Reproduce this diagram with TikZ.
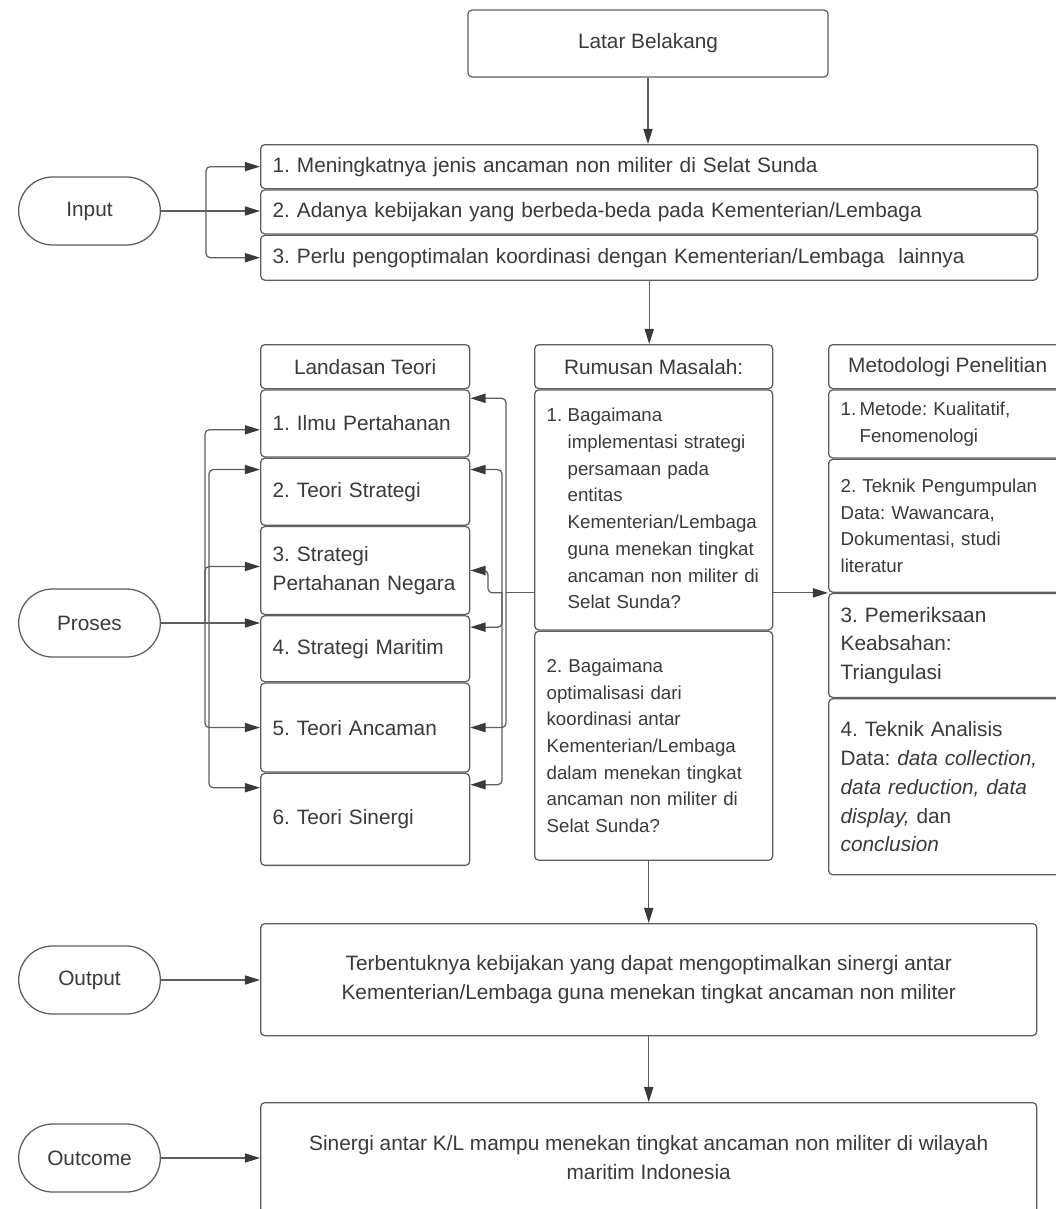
\documentclass[tikz,border=0pt]{standalone}
\usepackage{fontspec}
\setmainfont{Liberation Sans}
\usepackage{tikz}
\usetikzlibrary{arrows.meta,positioning,calc,shapes.misc}

\definecolor{linegray}{HTML}{5E5E5E}
\definecolor{tipgray}{HTML}{3A3A3A}
\definecolor{textgray}{HTML}{3A3A3A}
\newcommand{\fbig}{\fontsize{14.8}{20.5}\selectfont}
\newcommand{\fsmall}{\fontsize{13.3}{19}\selectfont}
\frenchspacing

\begin{document}
\begin{tikzpicture}[
    x=0.025cm, y=-0.025cm,
    box/.style={rectangle,draw=linegray,line width=0.9pt,rounded corners=3pt,text=textgray,font=\fbig,inner xsep=0.3cm,inner ysep=2pt},
    itembox/.style={box,align=left,text width=#1},
    itembox/.default=4.625cm,
    term/.style={rounded rectangle,draw=linegray,line width=0.9pt,minimum width=3.775cm,minimum height=1.7cm,text=textgray,font=\fbig},
    arrow/.style={-{Triangle[length=0.38cm,width=0.23cm,color=tipgray]},draw=linegray,line width=0.9pt,rounded corners=3pt},
    link/.style={draw=linegray,line width=0.9pt,rounded corners=3pt}
  ]
  \useasboundingbox (0,0) rectangle (1056,1209);

  % latar belakang + input
  \node[box,minimum width=9cm,minimum height=1.675cm] (latar) at (648,43.5) {Latar Belakang};

  \node[itembox=18.825cm,anchor=north west,minimum height=1.1cm] (in1) at (260,144) {1. Meningkatnya jenis ancaman non militer di Selat Sunda};
  \node[itembox=18.825cm,below=0pt of in1,minimum height=1.1cm] (in2) {2. Adanya kebijakan yang berbeda-beda pada Kementerian/Lembaga};
  \node[itembox=18.825cm,below=0pt of in2,minimum height=1.125cm] (in3) {3. Perlu pengoptimalan koordinasi dengan Kementerian/Lembaga\ \ lainnya};

  \node[term] (inp) at (89.5,211) {Input};

  % landasan teori
  \node[box,anchor=north west,minimum width=5.225cm,minimum height=1.1cm] (lth) at (260,344) {Landasan Teori};
  \node[itembox,below=0pt of lth,minimum height=1.675cm] (lt1) {1. Ilmu Pertahanan};
  \node[itembox,below=0pt of lt1,minimum height=1.675cm] (lt2) {2. Teori Strategi};
  \node[itembox,below=0pt of lt2,minimum height=2.2cm] (lt3) {3. Strategi\\Pertahanan Negara};
  \node[itembox,below=0pt of lt3,minimum height=1.65cm] (lt4) {4. Strategi Maritim};
  \node[itembox,below=0pt of lt4,minimum height=2.225cm] (lt5) {5. Teori Ancaman};
  \node[itembox,below=0pt of lt5,minimum height=2.3cm] (lt6) {6. Teori Sinergi};

  % rumusan masalah
  \node[box,anchor=north west,minimum width=5.95cm,minimum height=1.1cm] (rmh) at (534,344) {Rumusan Masalah:};
  \node[itembox=5.35cm,below=0pt of rmh,minimum height=6cm,font=\fsmall] (rm1) {%
    \begin{tabular}{@{}p{0.525cm}@{}l@{}}
      1. & Bagaimana\\
         & implementasi strategi\\
         & persamaan pada\\
         & entitas\\
         & Kementerian/Lembaga\\
         & guna menekan tingkat\\
         & ancaman non militer di\\
         & Selat Sunda?
    \end{tabular}};
  \node[itembox=5.35cm,below=0pt of rm1,minimum height=5.725cm,font=\fsmall] (rm2) {2. Bagaimana\\optimalisasi dari\\koordinasi antar\\Kementerian/Lembaga\\dalam menekan tingkat\\ancaman non militer di\\Selat Sunda?\\[6pt]};

  % metodologi
  \node[box,anchor=north west,minimum width=5.95cm,minimum height=1.1cm] (mth) at (828,344) {Metodologi Penelitian};
  \node[itembox=5.35cm,below=0pt of mth,minimum height=1.7cm,font=\fsmall] (mt1) {%
    \begin{tabular}{@{}p{0.475cm}@{}l@{}}
      1. & Metode: Kualitatif,\\
         & Fenomenologi
    \end{tabular}};
  \node[itembox=5.35cm,below=0pt of mt1,minimum height=3.325cm,font=\fsmall] (mt2) {2. Teknik Pengumpulan\\Data: Wawancara,\\Dokumentasi, studi\\literatur};
  \node[itembox=5.35cm,below=0pt of mt2,minimum height=2.6cm] (mt3) {3. Pemeriksaan\\Keabsahan:\\Triangulasi};
  \node[itembox=5.35cm,below=0pt of mt3,minimum height=4.4cm] (mt4) {4. Teknik Analisis\\Data: \textit{data collection,}\\\textit{data reduction, data}\\\textit{display,} dan\\\textit{conclusion}};

  \node[term] (pro) at (89.5,623) {Proses};

  % output + outcome
  \node[box,anchor=north west,minimum width=19.4cm,minimum height=2.8cm,align=center] (hasil) at (260,923) {Terbentuknya kebijakan yang dapat mengoptimalkan sinergi antar\\Kementerian/Lembaga guna menekan tingkat ancaman non militer};
  \node[term] (outt) at (89.5,980) {Output};

  \node[box,anchor=north west,minimum width=19.4cm,minimum height=2.75cm,align=center] (dampak) at (260,1102) {Sinergi antar K/L mampu menekan tingkat ancaman non militer di wilayah\\maritim Indonesia};
  \node[term] (outc) at (89.5,1158) {Outcome};

  % alur utama
  \draw[arrow] (latar.south) -- (latar.south |- in1.north);
  \draw[arrow] (in3.south) -- (in3.south |- rmh.north);
  \draw[arrow] (hasil.north |- rm2.south) -- (hasil.north);
  \draw[arrow] (hasil.south) -- (dampak.north);
  \draw[arrow] (outt.east) -- (outt.east -| hasil.west);
  \draw[arrow] (outc.east) -- (outc.east -| dampak.west);

  % input ke tiga poin
  \coordinate (ib) at ($(inp.east)+(45,0)$);
  \draw[link] (inp.east) -- (ib);
  \draw[arrow] (ib) |- (in1.west);
  \draw[arrow] (ib) -- (ib -| in2.west);
  \draw[arrow] (ib) |- (in3.west);

  % proses ke landasan teori
  \coordinate (pa) at ($(pro.east)+(44,0)$);
  \coordinate (pb) at ($(pro.east)+(48,0)$);
  \draw[arrow] (pro.east) -- (pro.east -| lt4.west);
  \draw[arrow] (pa) |- ([yshift=-0.16cm]lt1.west);
  \draw[arrow] (pa) |- ([yshift=0.1cm]lt3.west);
  \draw[arrow] (pa) |- (lt5.west);
  \draw[arrow] (pb) |- ([yshift=-0.3cm]lt2.north west);
  \draw[arrow] (pb) |- ([yshift=-0.375cm]lt6.north west);

  % rumusan masalah ke landasan teori dan metodologi
  \coordinate (rs) at (rm1.west |- mt2.south);
  \coordinate (ra) at ($(rs)+(-28,0)$);
  \coordinate (rb) at ($(rs)+(-32,0)$);
  \coordinate (rc) at ($(rs)+(-46,0)$);
  \draw[link] (rs) -- (ra);
  \draw[arrow] (ra) |- ([yshift=-0.225cm]lt1.north east);
  \draw[arrow] (ra) |- (lt5.east);
  \draw[arrow] (rb) |- ([yshift=-0.3cm]lt2.north east);
  \draw[arrow] (rb) |- ([yshift=-0.3cm]lt4.north east);
  \draw[arrow] (rb) |- ([yshift=-0.3cm]lt6.north east);
  \draw[arrow] (rb) -- (rc) |- (lt3.east);
  \draw[arrow] (rm1.east |- mt2.south) -- (mt2.south west);
\end{tikzpicture}
\end{document}
